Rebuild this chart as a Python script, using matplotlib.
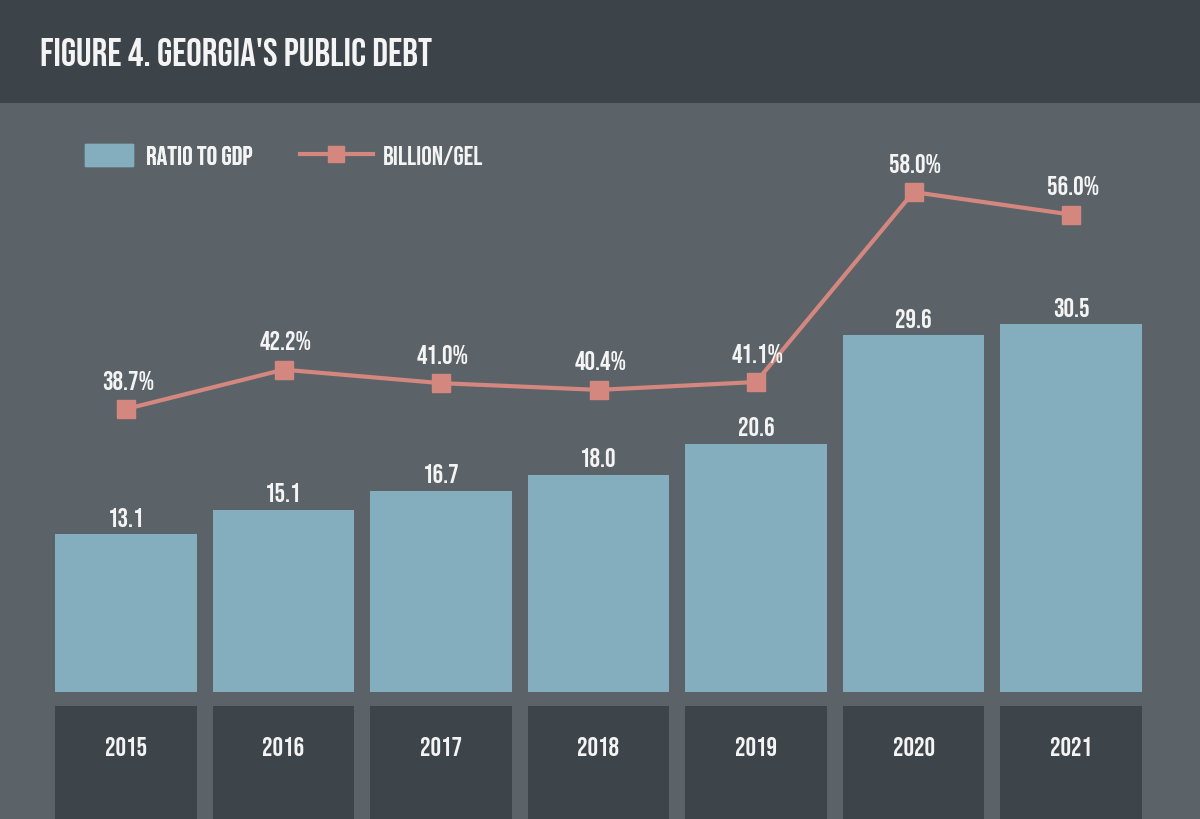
import matplotlib
matplotlib.use('Agg')
import matplotlib.pyplot as plt
import matplotlib.patches as mpatches
from matplotlib.lines import Line2D
import numpy as np

plt.rcParams['font.family'] = ['Bebas Neue', 'DejaVu Sans']

# 数据
years = ['2015', '2016', '2017', '2018', '2019', '2020', '2021']
debt_bn = [13.1, 15.1, 16.7, 18.0, 20.6, 29.6, 30.5]
ratio_gdp = [38.7, 42.2, 41.0, 40.4, 41.1, 58.0, 56.0]
bar_labels = ['13.1', '15.1', '16.7', '18.0', '20.6', '29.6', '30.5']
line_labels = ['38.7%', '42.2%', '41.0%', '40.4%', '41.1%', '58.0%', '56.0%']

# 配色
BG = '#5b6369'
HEADER = '#3c4349'
BOX = '#3d444a'
BAR = '#84aebe'
LINE = '#d4877f'
TXT = '#f4f4f4'
FS = 19

W, H = 1200, 820
fig = plt.figure(figsize=(12, 8.2), dpi=100, facecolor=BG)


def px_axes(x0, y0, x1, y1):
    # 像素坐标（左上原点）转 figure 坐标
    return fig.add_axes([x0 / W, 1 - y1 / H, (x1 - x0) / W, (y1 - y0) / H])


# 标题栏
head = px_axes(0, 0, 1200, 104)
head.set_facecolor(HEADER)
head.set_xticks([])
head.set_yticks([])
for s in head.spines.values():
    s.set_visible(False)
head.text(40 / 1200, 0.5, "FIGURE 4. GEORGIA'S PUBLIC DEBT", transform=head.transAxes,
          color=TXT, fontsize=28, va='center', ha='left')

x = np.arange(len(years))
xlim = (-126 / 157.5, (1200 - 126) / 157.5)

# 主图
ax = px_axes(0, 104, 1200, 693)
ax.patch.set_alpha(0)
ax.bar(x, debt_bn, width=0.9, color=BAR, zorder=2)
ax.set_xlim(*xlim)
ax.set_ylim(0, (693 - 104) / 12.06)
for xi, v, lab in zip(x, debt_bn, bar_labels):
    ax.annotate(lab, (xi, v), xytext=(0, 18), textcoords='offset pixels',
                ha='center', va='center', color=TXT, fontsize=FS)
ax.axis('off')

ax2 = ax.twinx()
ax2.set_ylim(38.7 - (693 - 410) / 11.24, 38.7 + (410 - 104) / 11.24)
ax2.plot(x, ratio_gdp, color=LINE, linewidth=3, marker='s', markersize=13, zorder=3)
for xi, v, lab in zip(x, ratio_gdp, line_labels):
    ax2.annotate(lab, (xi, v), xytext=(2, 30), textcoords='offset pixels',
                 ha='center', va='center', color=TXT, fontsize=FS)
ax2.axis('off')

# 图例（两个独立图例，句柄长度不同）
leg1 = fig.legend(handles=[mpatches.Patch(color=BAR, label='RATIO TO GDP')],
                  loc='center left', bbox_to_anchor=(85 / W, 1 - 156 / H),
                  frameon=False, fontsize=FS, handlelength=1.8, handleheight=0.95,
                  handletextpad=0.53, borderpad=0, borderaxespad=0, labelcolor=TXT)
leg2 = fig.legend(handles=[Line2D([], [], color=LINE, linewidth=3, marker='s', markersize=12,
                                  label='BILLION/GEL')],
                  loc='center left', bbox_to_anchor=(300 / W, 1 - 156 / H),
                  frameon=False, fontsize=FS, handlelength=2.76, handleheight=0.95,
                  handletextpad=0.38, borderpad=0, borderaxespad=0, labelcolor=TXT)
fig.add_artist(leg1)

# 年份方框
yax = px_axes(0, 707, 1200, 820)
yax.patch.set_alpha(0)
yax.bar(x, [1] * len(years), width=0.9, color=BOX)
yax.set_xlim(*xlim)
yax.set_ylim(0, 1)
for xi, yr in zip(x, years):
    yax.text(xi, 1 - 40 / 113, yr, ha='center', va='center', color=TXT, fontsize=FS)
yax.axis('off')

fig.savefig('out.png', dpi=100, facecolor=BG)
